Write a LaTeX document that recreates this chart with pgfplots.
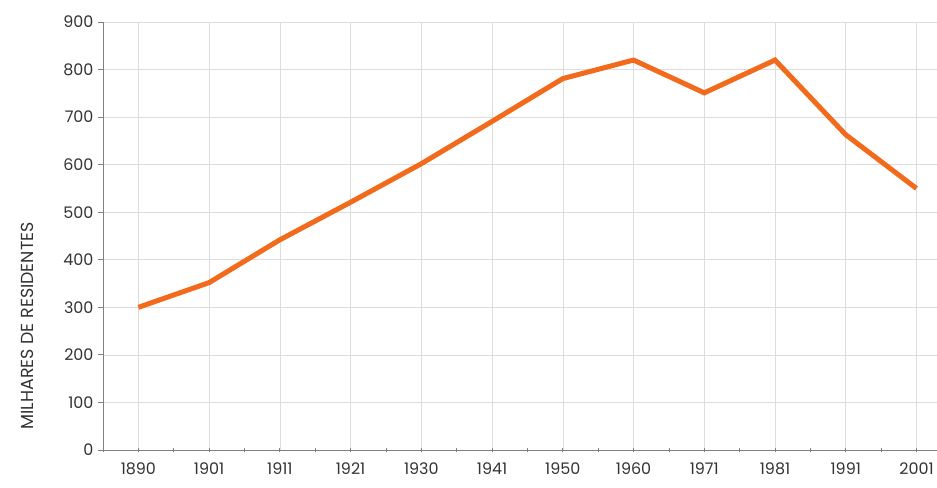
\documentclass[border=0pt]{standalone}
\usepackage{fontspec}
\setmainfont{Poppins}
\usepackage{pgfplots}
\pgfplotsset{compat=1.18}
\definecolor{lineor}{HTML}{F26A1B}
\definecolor{gridc}{HTML}{DDDDDD}
\definecolor{axc}{HTML}{808080}
\definecolor{txt}{HTML}{333333}
\begin{document}
\begin{tikzpicture}
\begin{axis}[
  at={(103bp,38bp)}, anchor=south west,
  scale only axis, width=834bp, height=428bp,
  xmin=-0.5, xmax=11.29, ymin=0, ymax=900,
  axis x line=bottom, axis y line=left,
  axis line style={-, axc, line width=0.8bp},
  xtick={0,...,11},
  xticklabels={1890,1901,1911,1921,1930,1941,1950,1960,1971,1981,1991,2001},
  minor xtick={-0.5,0.5,...,11},
  ytick={0,100,...,900},
  xmajorgrids, ymajorgrids,
  major grid style={gridc, line width=0.6bp},
  x tick style={axc, line width=0.8bp},
  y tick style={axc, line width=0.8bp},
  major tick length=5bp, minor tick length=5bp,
  xtick align=center, ytick align=outside,
  tick label style={font=\fontsize{16}{18}\selectfont, text=txt},
  /pgf/number format/assume math mode=true,
  xticklabel style={yshift=-7bp},
  yticklabel style={xshift=-1bp},
  ylabel={MILHARES DE RESIDENTES},
  every axis y label/.style={at={(axis description cs:0,0.29)}, xshift=-76bp, rotate=90, anchor=center, font=\fontsize{17.5}{19}\selectfont, text=txt},
  clip=true,
]
\addplot[lineor, line width=5bp, line join=miter] coordinates {
(0,300) (1,352) (2,442) (3,521) (4,602) (5,691) (6,781) (7,820) (8,751) (9,820) (10,663) (11,550)
};
\end{axis}
\pgfresetboundingbox
\path (0,0) rectangle (937bp,488bp);
\end{tikzpicture}
\end{document}
